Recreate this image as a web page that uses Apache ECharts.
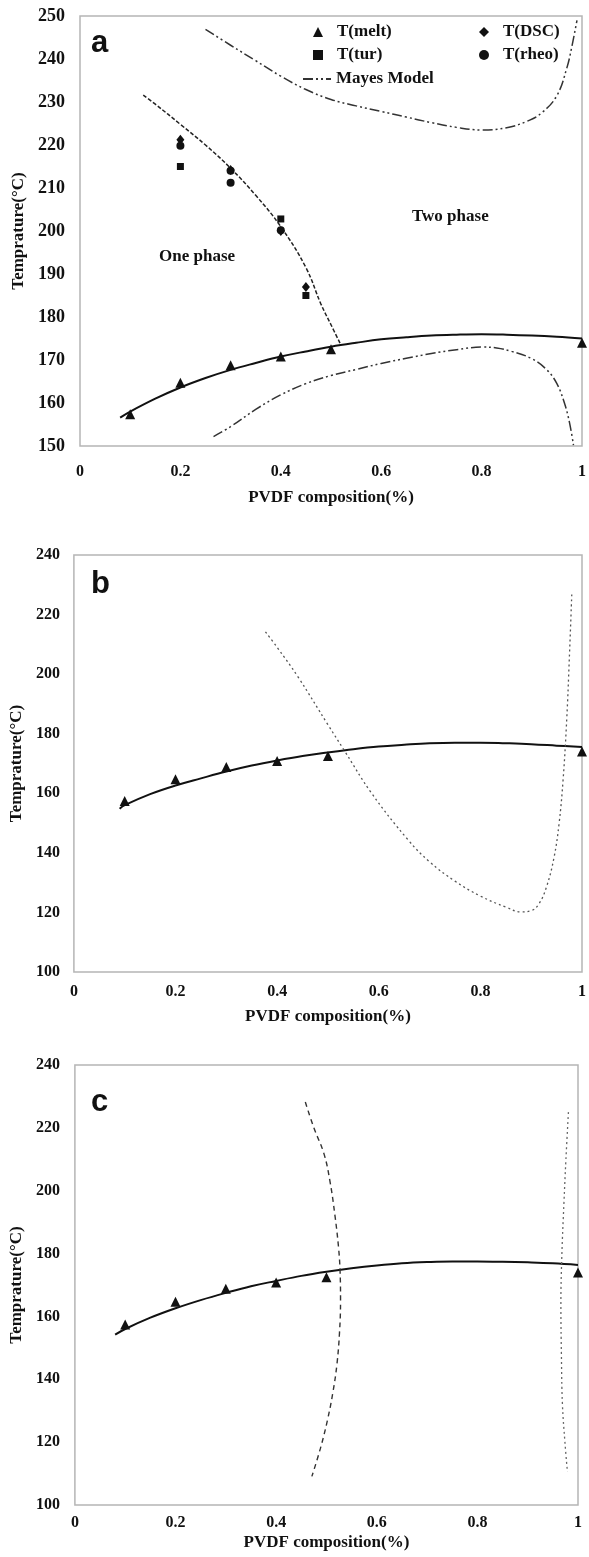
<!DOCTYPE html>
<html>
<head>
<meta charset="utf-8">
<script src="https://cdn.jsdelivr.net/npm/echarts@6/dist/echarts.min.js"></script>
<style>html,body{margin:0;padding:0;background:#fff;}#c{width:589px;height:1557px;}</style>
</head>
<body>
<div id="c"></div>
<script>
// ---------- DATA ----------
const xTicks = [0, 0.2, 0.4, 0.6, 0.8, 1];
// Experimental points (PVDF fraction, temperature °C)
const tMelt = [[0.1,157.4],[0.2,164.7],[0.3,168.8],[0.4,170.8],[0.5,172.5],[1.0,174]];
const tTur  = [[0.2,215],[0.4,202.8],[0.45,185]];
const tDSC  = [[0.2,221.2],[0.3,214.2],[0.4,200],[0.45,187]];
const tRheo = [[0.2,219.8],[0.3,211.2],[0.3,214],[0.4,200.2]];
// Panel a curves
const fitA = [[0.08,156.6],[0.1,158],[0.15,161],[0.2,163.6],[0.25,165.8],[0.3,167.7],[0.35,169.3],[0.4,170.8],[0.45,172],[0.5,173.1],[0.55,174],[0.6,174.8],[0.65,175.3],[0.7,175.7],[0.75,175.9],[0.8,176],[0.85,175.9],[0.9,175.7],[0.95,175.4],[1.0,175]];
const boundaryA = [[0.126,231.6],[0.15,229.5],[0.2,224.8],[0.25,220],[0.3,214.6],[0.35,208.3],[0.4,201],[0.45,191.5],[0.48,183],[0.5,178.2],[0.518,173.9]];
const mayesUpper = [[0.25,246.9],[0.3,243.2],[0.35,239.6],[0.4,236],[0.45,232.9],[0.5,230.6],[0.55,229.1],[0.6,227.8],[0.65,226.5],[0.7,225.2],[0.75,224.1],[0.8,223.5],[0.85,224],[0.89,225.5],[0.92,227.5],[0.95,231.5],[0.97,238],[0.98,243],[0.99,249]];
const mayesLower = [[0.266,152.2],[0.3,154.5],[0.35,158.5],[0.4,161.9],[0.45,164.5],[0.5,166.4],[0.55,167.8],[0.6,169.2],[0.65,170.4],[0.7,171.5],[0.75,172.4],[0.8,173],[0.83,172.8],[0.86,172],[0.9,170.3],[0.93,167.7],[0.95,164.5],[0.965,160],[0.975,155.5],[0.983,150.2]];
// Panel b curves
const fitB = [[0.09,154.8],[0.1,156],[0.15,159.7],[0.2,162.6],[0.25,165],[0.3,167.3],[0.35,169.3],[0.4,171],[0.45,172.5],[0.5,173.7],[0.55,174.8],[0.6,175.7],[0.65,176.3],[0.7,176.8],[0.75,177],[0.8,177],[0.85,176.8],[0.9,176.5],[0.95,176],[1.0,175.5]];
const spinodalB = [[0.377,214.2],[0.4,209],[0.441,199.1],[0.5,183],[0.531,174.7],[0.586,160],[0.658,144.3],[0.7,137],[0.75,130.5],[0.8,125.5],[0.85,121.8],[0.88,120.2],[0.9,120.6],[0.915,122.8],[0.93,128.5],[0.945,138.5],[0.955,150],[0.963,165],[0.97,185],[0.975,205],[0.98,227.3]];
// Panel c curves
const fitC = [[0.08,154.2],[0.1,156],[0.15,159.6],[0.2,162.6],[0.25,165.2],[0.3,167.5],[0.35,169.6],[0.4,171.3],[0.45,172.9],[0.5,174.2],[0.55,175.3],[0.6,176.2],[0.65,176.9],[0.7,177.3],[0.75,177.5],[0.8,177.5],[0.85,177.4],[0.9,177.2],[0.95,176.9],[1.0,176.4]];
const leftC = [[0.458,228.2],[0.475,220],[0.495,211.8],[0.507,203],[0.517,192],[0.524,182],[0.527,174.7],[0.528,165],[0.526,155],[0.521,145],[0.513,136],[0.502,127],[0.488,118],[0.471,109.1]];
const rightC = [[0.981,225],[0.976,210],[0.972,195.9],[0.968,180],[0.966,164],[0.967,148],[0.969,132.2],[0.974,120],[0.979,110.5]];

// ---------- STYLE ----------
const SERIF = "'Liberation Serif','Times New Roman',serif";
const INK = '#111111';
const BORDER = '#b5b5b5';

function xAx(gi, margin, nameGap) {
  return {
    type: 'value', gridIndex: gi, min: 0, max: 1, interval: 0.2,
    axisLine: {show: false}, axisTick: {show: false}, splitLine: {show: false},
    axisLabel: {color: INK, fontFamily: SERIF, fontWeight: 'bold', fontSize: 16, margin: margin, showMaxLabel: true},
    name: 'PVDF composition(%)', nameLocation: 'middle', nameGap: nameGap,
    nameTextStyle: {color: INK, fontFamily: SERIF, fontWeight: 'bold', fontSize: 17}
  };
}
function yAx(gi, min, max, interval, margin, nameGap, fs) {
  return {
    type: 'value', gridIndex: gi, min: min, max: max, interval: interval,
    axisLine: {show: false}, axisTick: {show: false}, splitLine: {show: false},
    axisLabel: {color: INK, fontFamily: SERIF, fontWeight: 'bold', fontSize: fs, margin: margin},
    name: 'Temprature(°C)', nameLocation: 'middle', nameGap: nameGap,
    nameTextStyle: {color: INK, fontFamily: SERIF, fontWeight: 'bold', fontSize: 17}
  };
}
function scatter(name, data, gi, symbol, size) {
  return {name: name, type: 'scatter', xAxisIndex: gi, yAxisIndex: gi, data: data,
    symbol: symbol, symbolSize: size, itemStyle: {color: INK, opacity: 1}, z: 5};
}
function line(name, data, gi, color, width, dash, smooth) {
  return {name: name, type: 'line', xAxisIndex: gi, yAxisIndex: gi, data: data,
    symbol: 'none', showSymbol: false, smooth: smooth, clip: true,
    lineStyle: {color: color, width: width, type: dash}, itemStyle: {color: color}};
}

const legendText = {color: INK, fontFamily: SERIF, fontWeight: 'bold', fontSize: 17, lineHeight: 20, padding: [0, 0, 0, 9]};
const mayesDash = [10, 3, 2, 3, 2, 3];

const option = {
  backgroundColor: '#fff',
  animation: false,
  grid: [
    {left: 80, top: 16, width: 512, height: 430, show: true, borderColor: BORDER, borderWidth: 1.5, backgroundColor: 'transparent'},
    {left: 71.5, top: 555, width: 520, height: 417, show: true, borderColor: BORDER, borderWidth: 1.5, backgroundColor: 'transparent'},
    {left: 73, top: 1065, width: 505, height: 440, show: true, borderColor: BORDER, borderWidth: 1.5, backgroundColor: 'transparent'}
  ],
  xAxis: [xAx(0, 18, 43), xAx(1, 12, 36), xAx(2, 10, 29)],
  yAxis: [yAx(0, 150, 250, 10, 15, 49, 18), yAx(1, 100, 240, 20, 14, 42, 16), yAx(2, 100, 240, 20, 15, 43, 16)],
  legend: [
    {orient: 'vertical', left: 308, top: 17, itemWidth: 10, itemHeight: 10, itemGap: 3,
     data: ['T(melt)', 'T(tur)'], textStyle: legendText, selectedMode: false},
    {orient: 'vertical', left: 474, top: 17, itemWidth: 10, itemHeight: 10, itemGap: 3,
     data: ['T(DSC)', 'T(rheo)'], textStyle: legendText, selectedMode: false},
    {orient: 'vertical', left: 297, top: 64, itemWidth: 28, itemHeight: 10,
     data: [{name: 'Mayes Model', itemStyle: {opacity: 0, color: 'transparent', borderWidth: 0}}],
     textStyle: {color: INK, fontFamily: SERIF, fontWeight: 'bold', fontSize: 17, lineHeight: 20}, selectedMode: false}
  ],
  graphic: [
    {type: 'text', left: 91, top: 28, style: {text: 'a', font: "bold 31px 'Liberation Sans', Arial, sans-serif", fill: '#111'}},
    {type: 'text', left: 91, top: 569, style: {text: 'b', font: "bold 31px 'Liberation Sans', Arial, sans-serif", fill: '#111'}},
    {type: 'text', left: 91, top: 1087, style: {text: 'c', font: "bold 31px 'Liberation Sans', Arial, sans-serif", fill: '#111'}},
    {type: 'text', left: 159, top: 248, style: {text: 'One phase', font: "bold 17px 'Liberation Serif', 'Times New Roman', serif", fill: INK}},
    {type: 'text', left: 412, top: 208, style: {text: 'Two phase', font: "bold 17px 'Liberation Serif', 'Times New Roman', serif", fill: INK}}
  ],
  series: [
    // panel a
    line('fitA', fitA, 0, '#111', 2, 'solid', 0.4),
    line('boundaryA', boundaryA, 0, '#222', 1.5, [4, 2], 0.4),
    line('Mayes Model', mayesUpper, 0, '#333', 1.5, mayesDash, 0.4),
    line('Mayes Model', mayesLower, 0, '#333', 1.5, mayesDash, 0.4),
    scatter('T(melt)', tMelt, 0, 'triangle', 10),
    scatter('T(tur)', tTur, 0, 'rect', 7),
    scatter('T(DSC)', tDSC, 0, 'diamond', [8, 10]),
    scatter('T(rheo)', tRheo, 0, 'circle', 8),
    // panel b
    line('fitB', fitB, 1, '#111', 2, 'solid', 0.4),
    line('spinodalB', spinodalB, 1, '#555', 1.3, [2, 3], 0.4),
    scatter('T(melt)', tMelt, 1, 'triangle', 10),
    // panel c
    line('fitC', fitC, 2, '#111', 2, 'solid', 0.4),
    line('leftC', leftC, 2, '#333', 1.4, [5, 4], 0.4),
    line('rightC', rightC, 2, '#666', 1.3, [2, 3], 0.4),
    scatter('T(melt)', tMelt, 2, 'triangle', 10)
  ]
};

const chart = echarts.init(document.getElementById('c'), null, {renderer: 'canvas'});
chart.setOption(option);
</script>
</body>
</html>
